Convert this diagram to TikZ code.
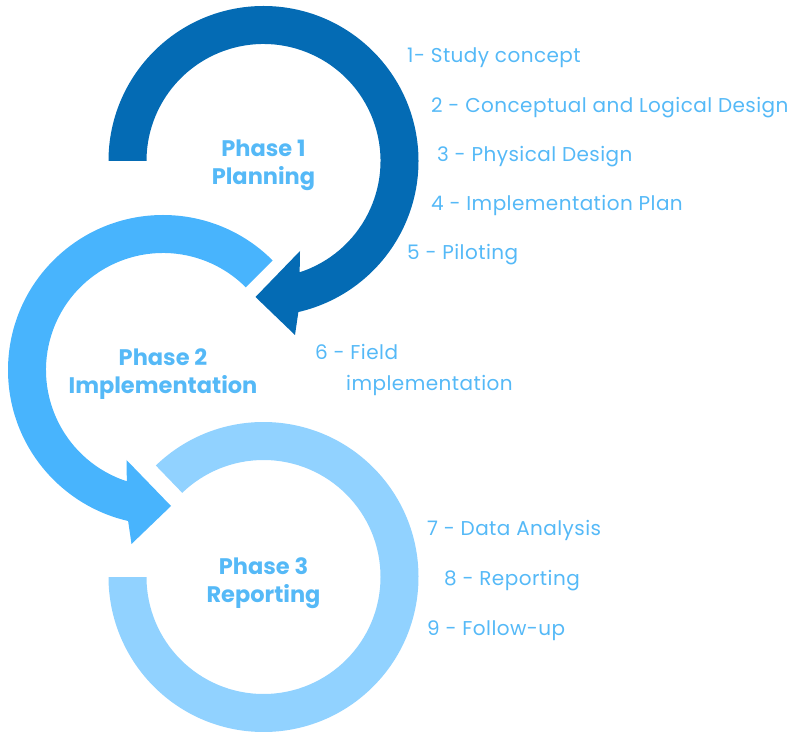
\documentclass[tikz,border=0pt]{standalone}
\usepackage{fontspec}
\setmainfont{Poppins}
\newfontfamily\itemfont[LetterSpace=2.2]{Poppins}
\definecolor{darkblue}{RGB}{4,107,180}
\definecolor{midblue}{RGB}{72,180,253}
\definecolor{lightblue}{RGB}{145,210,255}
\definecolor{txtblue}{RGB}{85,185,247}
\begin{document}
\begin{tikzpicture}[x=1pt, y=1pt,
  item/.style={text=txtblue, font=\itemfont\fontsize{20}{24}\selectfont, anchor=base west, inner sep=0pt},
  phase/.style={text=txtblue, font=\fontsize{22.5}{28}\selectfont\bfseries, align=center}]
\useasboundingbox (0,0) rectangle (797,731);

% three circular arrows
\fill[darkblue, shift={(263.5,570)}] (180:155) arc[start angle=180, end angle=-77, radius=155]
  -- (31.5,-174) -- (-8,-136) -- (36.5,-90) -- (-72:117) arc[start angle=-72, end angle=180, radius=117] -- cycle;
\fill[midblue, shift={(163,361)}] (45:155) arc[start angle=45, end angle=257, radius=155]
  -- (-31.5,-174) -- (8,-136) -- (-36.5,-90) -- (252:117) arc[start angle=252, end angle=45, radius=117] -- cycle;
\fill[lightblue, shift={(263.5,154)}] (134:155) arc[start angle=134, end angle=-180, radius=155]
  -- (-180:117) arc[start angle=-180, end angle=134, radius=117] -- cycle;

\node[phase] (phase1) at (263.5,566) {Phase 1\\Planning};
\node[phase] (phase2) at (163,357) {Phase 2\\Implementation};
\node[phase] (phase3) at (263.5,148) {Phase 3\\Reporting};

\foreach \x/\y/\txt [count=\i] in {407/668/1- Study concept, 431/618/2 - Conceptual and Logical Design,
  437/569/3 - Physical Design, 431/520/4 - Implementation Plan, 407/471/5 - Piloting,
  315/371/6 - Field, 346/340/implementation, 427/196/7 - Data Analysis,
  444/146/8 - Reporting, 427/96/9 - Follow-up}
{
    \node[item] (item\i) at (\x,\y) {\txt};
}

\end{tikzpicture}
\end{document}
